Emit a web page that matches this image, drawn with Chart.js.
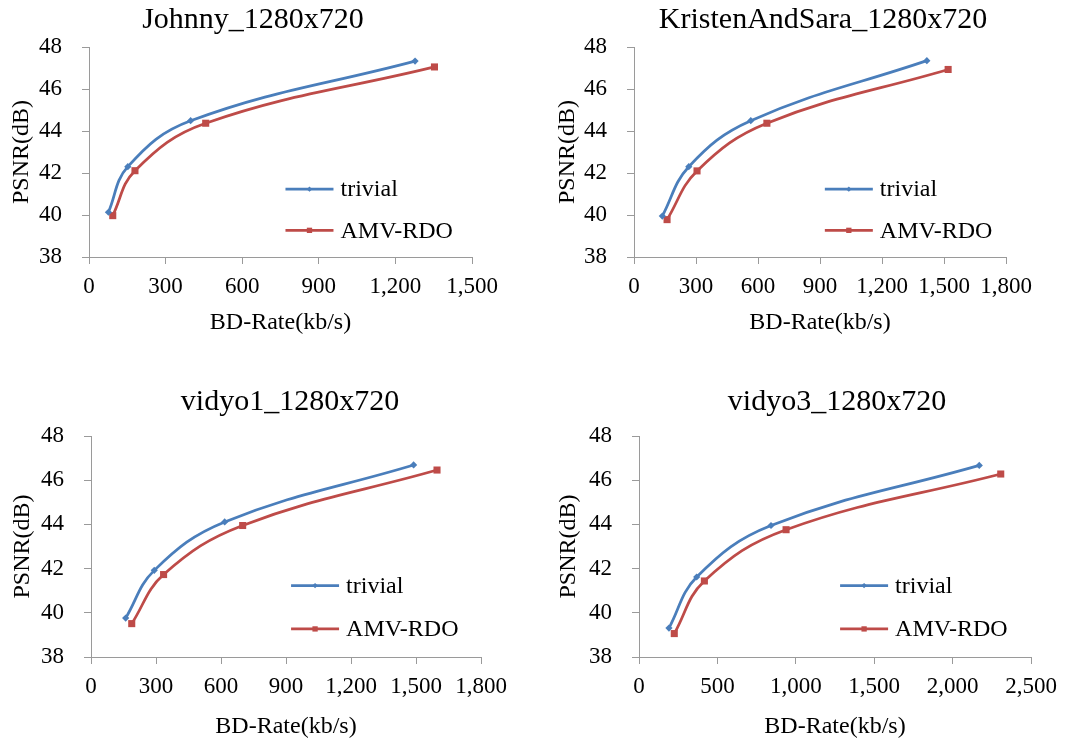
<!DOCTYPE html>
<html>
<head>
<meta charset="utf-8">
<title>BD-Rate vs PSNR</title>
<script src="https://cdn.jsdelivr.net/npm/chart.js@4.4.0/dist/chart.umd.min.js"></script>
<style>
  body { margin: 0; background: #fff; }
  .panel { position: absolute; width: 538px; height: 371px; }
  .panel canvas { display: block; }
</style>
</head>
<body>
<div class="panel" style="left:0;top:0"><canvas id="johnny" width="538" height="371"></canvas></div>
<div class="panel" style="left:538px;top:0"><canvas id="kristen" width="538" height="371"></canvas></div>
<div class="panel" style="left:0;top:371px"><canvas id="vidyo1" width="538" height="371"></canvas></div>
<div class="panel" style="left:538px;top:371px"><canvas id="vidyo3" width="538" height="371"></canvas></div>
<script>
// series names
const seriesNames = ['trivial', 'AMV-RDO'];

// PSNR axis (dB)
const psnrMin = 38;
const psnrMax = 48;
const psnrStep = 2;

// Johnny_1280x720
const johnnyTrivialRate = [76, 152, 398, 1277];
const johnnyTrivialPsnr = [40.13, 42.30, 44.49, 47.33];
const johnnyAmvRate = [93, 180, 457, 1353];
const johnnyAmvPsnr = [39.97, 42.11, 44.37, 47.05];

// KristenAndSara_1280x720
const kristenTrivialRate = [137, 265, 565, 1417];
const kristenTrivialPsnr = [39.95, 42.30, 44.49, 47.35];
const kristenAmvRate = [160, 305, 643, 1520];
const kristenAmvPsnr = [39.78, 42.10, 44.37, 46.93];

// vidyo1_1280x720
const vidyo1TrivialRate = [160, 292, 617, 1489];
const vidyo1TrivialPsnr = [39.76, 41.92, 44.11, 46.69];
const vidyo1AmvRate = [188, 335, 700, 1597];
const vidyo1AmvPsnr = [39.51, 41.73, 43.95, 46.46];

// vidyo3_1280x720
const vidyo3TrivialRate = [191, 368, 842, 2170];
const vidyo3TrivialPsnr = [39.31, 41.62, 43.95, 46.67];
const vidyo3AmvRate = [225, 417, 938, 2307];
const vidyo3AmvPsnr = [39.06, 41.44, 43.76, 46.28];

const FONT = '"Liberation Serif", "Times New Roman", serif';
const AXIS_GREY = '#9a9a9a';
const BLUE = '#4a7ebb';
const RED = '#be4b48';

function pairs(xs, ys) {
  return xs.map((x, i) => ({ x: x, y: ys[i] }));
}

// title + in-plot legend
const panelText = {
  id: 'panelText',
  afterDraw(chart, args, opts) {
    const ctx = chart.ctx;
    const area = chart.chartArea;
    ctx.save();
    ctx.fillStyle = '#000';
    ctx.font = '30px ' + FONT;
    ctx.textAlign = 'center';
    ctx.textBaseline = 'alphabetic';
    ctx.fillText(opts.title, opts.titleX, opts.titleY);

    const x0 = area.left + area.width * 0.513;
    const lineLen = 48;
    chart.data.datasets.forEach((ds, i) => {
      const y = area.top + area.height * (i === 0 ? 0.677 : 0.873);
      ctx.strokeStyle = ds.borderColor;
      ctx.lineWidth = ds.borderWidth;
      ctx.beginPath();
      ctx.moveTo(x0, y);
      ctx.lineTo(x0 + lineLen, y);
      ctx.stroke();
      ctx.fillStyle = ds.backgroundColor;
      Chart.helpers.drawPoint(ctx, {
        pointStyle: ds.pointStyle, radius: ds.pointRadius * 0.75, rotation: 0, borderWidth: 0
      }, x0 + lineLen / 2, y);
      ctx.fillStyle = '#000';
      ctx.font = '24px ' + FONT;
      ctx.textAlign = 'left';
      ctx.textBaseline = 'middle';
      ctx.fillText(ds.label, x0 + lineLen + 7, y + 1);
    });
    ctx.restore();
  }
};

function makeChart(id, p) {
  const W = 538, H = 371;
  return new Chart(document.getElementById(id), {
    type: 'line',
    data: {
      datasets: [{
        label: seriesNames[0],
        data: pairs(p.trivialRate, p.trivialPsnr),
        borderColor: BLUE,
        backgroundColor: BLUE,
        borderWidth: 2.75,
        pointStyle: 'rectRot',
        pointRadius: 3.6,
        pointBorderWidth: 0,
        tension: 0.4
      }, {
        label: seriesNames[1],
        data: pairs(p.amvRate, p.amvPsnr),
        borderColor: RED,
        backgroundColor: RED,
        borderWidth: 2.75,
        pointStyle: 'rect',
        pointRadius: 5,
        pointBorderWidth: 0,
        tension: 0.4
      }]
    },
    options: {
      responsive: false,
      animation: false,
      layout: { padding: { left: 0, top: p.top, right: W - p.right, bottom: 0 } },
      plugins: {
        legend: { display: false },
        tooltip: { enabled: false },
        panelText: { title: p.title, titleX: p.titleX, titleY: p.titleY }
      },
      scales: {
        x: {
          type: 'linear',
          min: 0,
          max: p.xMax,
          afterFit: s => { s.height = H - p.bottom; },
          grid: { drawOnChartArea: false, color: AXIS_GREY, tickLength: 7 },
          border: { color: AXIS_GREY, width: 1 },
          ticks: {
            stepSize: p.xStep,
            color: '#000',
            padding: 9,
            maxRotation: 0,
            font: { family: FONT, size: 23 },
            callback: v => v.toLocaleString('en-US')
          },
          title: {
            display: true,
            text: 'BD-Rate(kb/s)',
            color: '#000',
            font: { family: FONT, size: 24 },
            padding: { top: 0, bottom: H - 14.4 - p.xTitleY }
          }
        },
        y: {
          min: psnrMin,
          max: psnrMax,
          afterFit: s => { s.width = p.left; },
          grid: { drawOnChartArea: false, color: AXIS_GREY, tickLength: 7 },
          border: { color: AXIS_GREY, width: 1 },
          ticks: {
            stepSize: psnrStep,
            color: '#000',
            padding: 20,
            font: { family: FONT, size: 23 }
          },
          title: {
            display: true,
            text: 'PSNR(dB)',
            color: '#000',
            font: { family: FONT, size: 24 },
            padding: { top: p.yTitleX - 14.4, bottom: 0 }
          }
        }
      }
    },
    plugins: [panelText]
  });
}

makeChart('johnny', {
  title: 'Johnny_1280x720', titleX: 253, titleY: 28,
  left: 89, right: 472, top: 47, bottom: 257,
  xMax: 1500, xStep: 300, yTitleX: 22, xTitleY: 323,
  trivialRate: johnnyTrivialRate, trivialPsnr: johnnyTrivialPsnr,
  amvRate: johnnyAmvRate, amvPsnr: johnnyAmvPsnr
});

makeChart('kristen', {
  title: 'KristenAndSara_1280x720', titleX: 285, titleY: 28,
  left: 96, right: 468, top: 47, bottom: 257,
  xMax: 1800, xStep: 300, yTitleX: 29.5, xTitleY: 323,
  trivialRate: kristenTrivialRate, trivialPsnr: kristenTrivialPsnr,
  amvRate: kristenAmvRate, amvPsnr: kristenAmvPsnr
});

makeChart('vidyo1', {
  title: 'vidyo1_1280x720', titleX: 290, titleY: 39,
  left: 91, right: 481, top: 65, bottom: 286,
  xMax: 1800, xStep: 300, yTitleX: 22.5, xTitleY: 356,
  trivialRate: vidyo1TrivialRate, trivialPsnr: vidyo1TrivialPsnr,
  amvRate: vidyo1AmvRate, amvPsnr: vidyo1AmvPsnr
});

makeChart('vidyo3', {
  title: 'vidyo3_1280x720', titleX: 299, titleY: 39,
  left: 101, right: 493, top: 65, bottom: 286,
  xMax: 2500, xStep: 500, yTitleX: 30.8, xTitleY: 356,
  trivialRate: vidyo3TrivialRate, trivialPsnr: vidyo3TrivialPsnr,
  amvRate: vidyo3AmvRate, amvPsnr: vidyo3AmvPsnr
});
</script>
</body>
</html>
